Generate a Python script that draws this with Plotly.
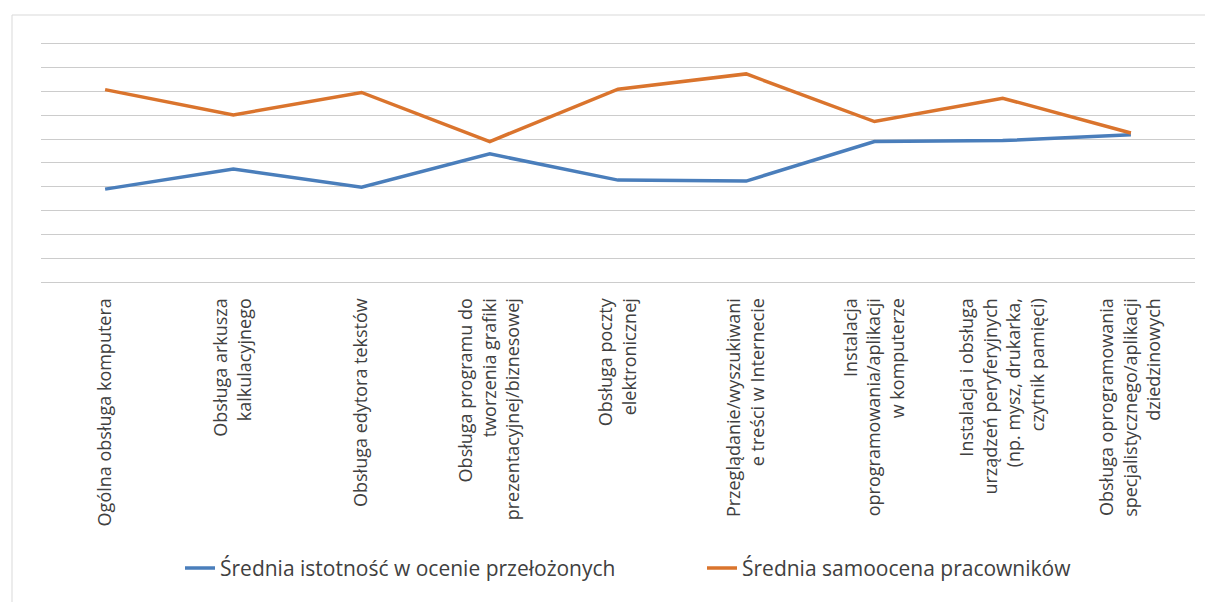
import plotly.graph_objects as go

categories = [
    "Ogólna obsługa komputera",
    "Obsługa arkusza<br>kalkulacyjnego",
    "Obsługa edytora tekstów",
    "Obsługa programu do<br>tworzenia grafiki<br>prezentacyjnej/biznesowej",
    "Obsługa poczty<br>elektronicznej",
    "Przeglądanie/wyszukiwani<br>e treści w Internecie",
    "Instalacja<br>oprogramowania/aplikacji<br>w komputerze",
    "Instalacja i obsługa<br>urządzeń peryferyjnych<br>(np. mysz, drukarka,<br>czytnik pamięci)",
    "Obsługa oprogramowania<br>specjalistycznego/aplikacji<br>dziedzinowych",
]
przelozeni = [1.95, 2.37, 1.99, 2.69, 2.14, 2.12, 2.95, 2.97, 3.09]
pracownicy = [4.04, 3.51, 3.98, 2.95, 4.05, 4.37, 3.37, 3.86, 3.13]
series_names = ["Średnia istotność w ocenie przełożonych", "Średnia samoocena pracowników"]
colors = ["#4a7ebb", "#da742d"]
legend_ids = ["legend", "legend2"]

fig = go.Figure()
for name, vals, col, lg in zip(series_names, [przelozeni, pracownicy], colors, legend_ids):
    fig.add_trace(go.Scatter(x=categories, y=vals, mode="lines", name=name, legend=lg,
                             line=dict(color=col, width=3.5)))

legend_common = dict(orientation="h", xref="container", yref="container",
                     xanchor="left", yanchor="middle", y=0.056,
                     font=dict(size=21, color="#404040"),
                     bgcolor="rgba(0,0,0,0)")

fig.update_layout(
    width=1205, height=602,
    margin=dict(l=41, r=10, t=42, b=320, autoexpand=False),
    paper_bgcolor="white", plot_bgcolor="white",
    font=dict(family="Open Sans", color="#404040"),
    showlegend=True,
    legend=dict(x=180 / 1205, **legend_common),
    legend2=dict(x=702 / 1205, **legend_common),
    xaxis=dict(type="category", range=[-0.5, len(categories) - 0.5], tickangle=-90,
               tickfont=dict(size=18, color="#404040"), automargin=False,
               showgrid=False, showline=True, linecolor="#cccccc", linewidth=1,
               ticks="", ticklabelstandoff=8, fixedrange=True),
    yaxis=dict(range=[0, 5.04], dtick=0.5, showticklabels=False, showgrid=True, automargin=False,
               gridcolor="#cccccc", gridwidth=1, zeroline=False, showline=False,
               ticks=""),
)

# outer light border of the chart area
fig.add_shape(type="rect", xref="paper", yref="paper",
              x0=(12 - 41) / 1154, x1=(1215 - 41) / 1154,
              y0=(282 - 615) / 240, y1=1 + (42 - 15) / 240,
              line=dict(color="#d9d9d9", width=1), fillcolor="rgba(0,0,0,0)", layer="below")

fig.write_html("out.html", config={"displayModeBar": False},
               post_script="document.body.style.margin='0';")
